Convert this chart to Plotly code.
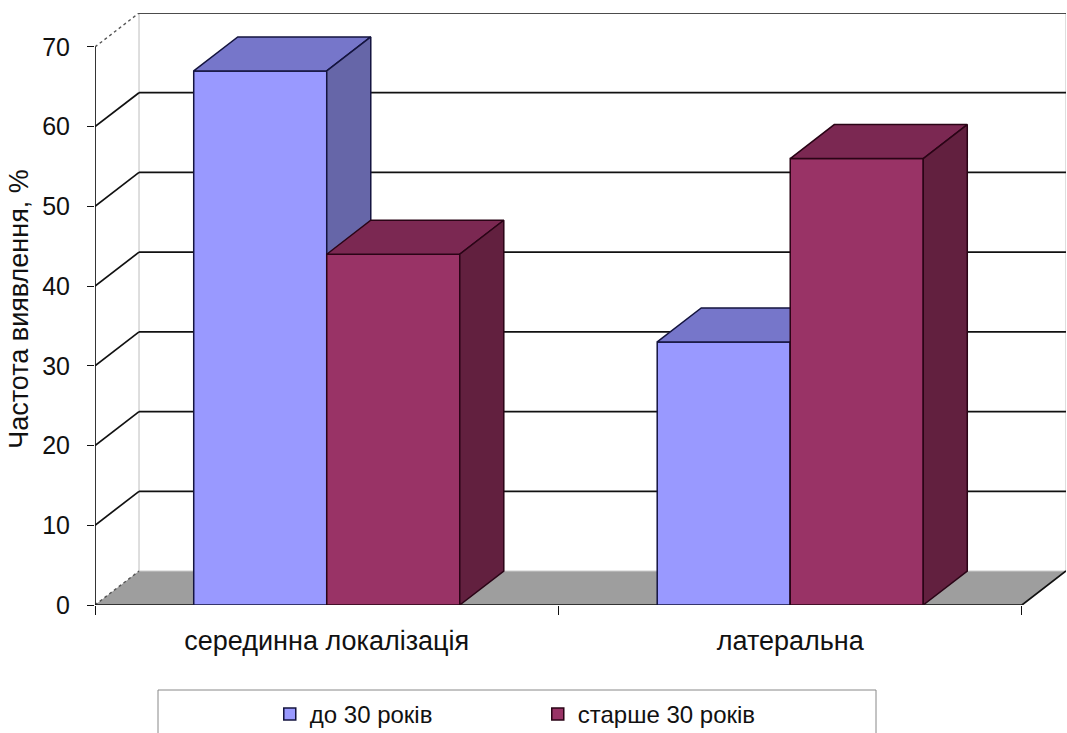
import plotly.graph_objects as go

# ---- data ----
categories = ["серединна локалізація", "латеральна"]
series_names = ["до 30 років", "старше 30 років"]
young = [67, 33]
older = [44, 56]
y_ticks = [0, 10, 20, 30, 40, 50, 60, 70]

# ---- 3D geometry (in axis units) ----
BAR_W = 0.287
DX = 0.095
DY = 4.26
X0, X1 = -0.5, 1.5
YMAX = 70

front_colors = ["#9999FF", "#993366"]
top_colors = ["#7676CA", "#7B2852"]
side_colors = ["#6666A8", "#62203F"]
edge_colors = ["#14143F", "#2A0416"]
FONT = "Liberation Sans, Arial, sans-serif"

fig = go.Figure()

# ---- walls / floor / grid (subplot 1, bottom layer) ----
fig.add_trace(go.Scatter(
    x=[X0, X1, X1 + DX, X0 + DX, X0], y=[0, 0, DY, DY, 0],
    mode="lines", fill="toself", fillcolor="#9E9E9E", line=dict(width=0),
    hoverinfo="skip", showlegend=False))
# floor back edge (light)
fig.add_trace(go.Scatter(x=[X0 + DX, X1 + DX], y=[DY, DY], mode="lines",
                         line=dict(color="#C8C8C8", width=1), hoverinfo="skip", showlegend=False))
# back wall verticals
fig.add_trace(go.Scatter(x=[X0 + DX, X0 + DX, None, X1 + DX, X1 + DX],
                         y=[DY, YMAX + DY, None, DY, YMAX + DY], mode="lines",
                         line=dict(color="#BDBDBD", width=1), hoverinfo="skip", showlegend=False))
# back wall gridlines + side wall diagonals
gx, gy, dx_, dy_ = [], [], [], []
for v in y_ticks[1:]:
    gx += [X0 + DX, X1 + DX, None]
    gy += [v + DY, v + DY, None]
    if v < YMAX:
        dx_ += [X0, X0 + DX, None]
        dy_ += [v, v + DY, None]
fig.add_trace(go.Scatter(x=gx, y=gy, mode="lines", line=dict(color="#111111", width=1.7),
                         hoverinfo="skip", showlegend=False))
fig.add_trace(go.Scatter(x=dx_, y=dy_, mode="lines", line=dict(color="#111111", width=1.7),
                         hoverinfo="skip", showlegend=False))
# dotted diagonals at 0 and 70
fig.add_trace(go.Scatter(x=[X0, X0 + DX, None, X0, X0 + DX], y=[0, DY, None, YMAX, YMAX + DY],
                         mode="lines", line=dict(color="#555555", width=1.4, dash="dot"),
                         hoverinfo="skip", showlegend=False))
# front floor edge, right floor edge, value axis line
fig.add_trace(go.Scatter(x=[X0, X1, X1 + DX, None, X0, X0], y=[0, 0, DY, None, 0, YMAX],
                         mode="lines", line=dict(color="#111111", width=1.7),
                         hoverinfo="skip", showlegend=False))


def add_series(vals, idx, offset, xa, ya):
    fig.add_trace(go.Bar(
        x=[0, 1], y=vals, width=BAR_W, offset=offset, name=series_names[idx],
        marker=dict(color=front_colors[idx], line=dict(color=edge_colors[idx], width=1.5)),
        xaxis=xa, yaxis=ya, hoverinfo="skip"))
    for i, v in enumerate(vals):
        x0 = i + offset
        x1 = x0 + BAR_W
        # top face
        fig.add_trace(go.Scatter(
            x=[x0, x1, x1 + DX, x0 + DX, x0], y=[v, v, v + DY, v + DY, v],
            mode="lines", fill="toself", fillcolor=top_colors[idx],
            line=dict(color=edge_colors[idx], width=1.5), xaxis=xa, yaxis=ya,
            hoverinfo="skip", showlegend=False))
        # side face
        fig.add_trace(go.Scatter(
            x=[x1, x1, x1 + DX, x1 + DX, x1], y=[0, v, v + DY, DY, 0],
            mode="lines", fill="toself", fillcolor=side_colors[idx],
            line=dict(color=edge_colors[idx], width=1.5), xaxis=xa, yaxis=ya,
            hoverinfo="skip", showlegend=False))


add_series(young, 0, -BAR_W, "x2", "y2")
add_series(older, 1, 0.0, "x3", "y3")

xr = [X0, X1 + DX]
yr = [0, YMAX + DY]
hidden = dict(showgrid=False, zeroline=False, showline=False, showticklabels=False, ticks="")

fig.update_layout(
    width=1067, height=733,
    margin=dict(l=95, r=1, t=13, b=128, autoexpand=False),
    paper_bgcolor="white", plot_bgcolor="white",
    barmode="overlay",
    font=dict(family=FONT, color="#111111"),
    xaxis=dict(range=xr, tickmode="array", tickvals=[-0.5, 0.5, 1.5], ticks="outside",
               ticklen=9, tickcolor="#111111", tickwidth=1, showticklabels=False,
               showgrid=False, zeroline=False, showline=False, fixedrange=True),
    yaxis=dict(range=yr, tickmode="array", tickvals=y_ticks, ticks="outside", ticklen=7,
               tickcolor="#111111", tickwidth=1, showgrid=False, zeroline=False, showline=False,
               tickfont=dict(size=25, color="#111111"), ticklabelstandoff=12,
               title=dict(text="Частота виявлення, %", font=dict(size=27, color="#111111"),
                          standoff=5), fixedrange=True),
    xaxis2=dict(range=xr, overlaying="x", tickmode="array", tickvals=[0, 1],
                ticktext=categories, tickfont=dict(size=27, color="#111111"),
                ticklabelstandoff=17, **hidden | dict(showticklabels=True)),
    yaxis2=dict(range=yr, overlaying="y", **hidden),
    xaxis3=dict(range=xr, overlaying="x", **hidden),
    yaxis3=dict(range=yr, overlaying="y", **hidden),
    legend=dict(orientation="h", x=0.18, xanchor="left", y=-0.147, yanchor="top",
                font=dict(size=24, color="#111111"), bgcolor="rgba(0,0,0,0)",
                entrywidth=223, traceorder="normal"),
    shapes=[dict(type="rect", xref="paper", yref="paper",
                 x0=(158 - 95) / 971, x1=(876 - 95) / 971, y0=(605 - 690) / 592, y1=-0.30,
                 line=dict(color="#888888", width=1), fillcolor="rgba(0,0,0,0)")],
)

fig.write_html("out.html")
